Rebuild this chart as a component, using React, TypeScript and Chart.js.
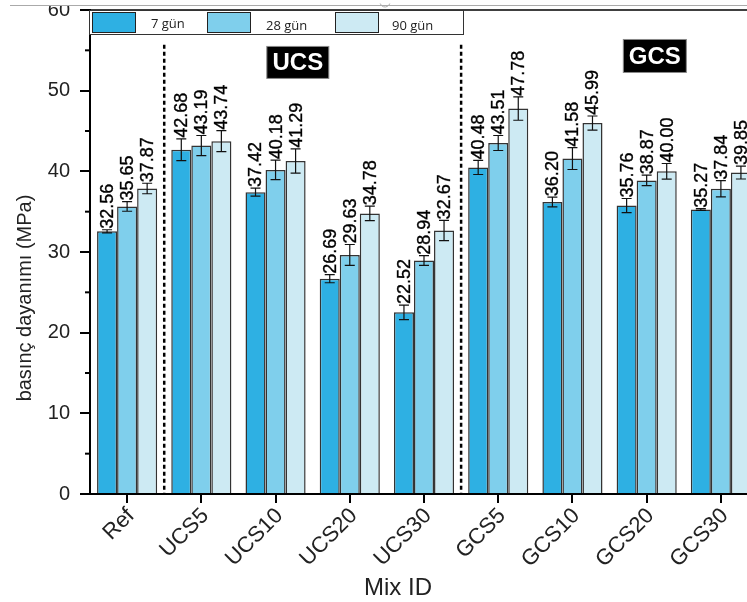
import { useEffect, useRef } from "react";
import { Chart, registerables } from "chart.js";
Chart.register(...registerables);

const categories = ["Ref", "UCS5", "UCS10", "UCS20", "UCS30", "GCS5", "GCS10", "GCS20", "GCS30"];
const seriesNames = ["7 gün", "28 gün", "90 gün"];
const day7 = [32.56, 42.68, 37.42, 26.69, 22.52, 40.48, 36.2, 35.76, 35.27];
const day28 = [35.65, 43.19, 40.18, 29.63, 28.94, 43.51, 41.58, 38.87, 37.84];
const day90 = [37.87, 43.74, 41.29, 34.78, 32.67, 47.78, 45.99, 40.0, 39.85];
const err7 = [0.2, 1.35, 0.5, 0.5, 0.9, 0.87, 0.6, 0.87, 0.1];
const err28 = [0.6, 1.25, 1.2, 1.3, 0.6, 0.93, 1.35, 0.65, 1.0];
const err90 = [0.65, 1.3, 1.5, 0.9, 1.25, 1.45, 0.87, 0.97, 0.8];
const yTicks = [0, 10, 20, 30, 40, 50, 60];
const groupLabels = ["UCS", "GCS"];
const yTitle = "basınç dayanımı (MPa)";
const xTitle = "Mix ID";
const colors = ["#2EB0E3", "#7FCFEC", "#CDEAF3"];

const FONT = '"Liberation Sans", Arial, sans-serif';

const overlay = {
  id: "overlay",
  afterDatasetsDraw(chart: any) {
    const ctx = chart.ctx;
    const ys = chart.scales.y;
    const errs = [err7, err28, err90];
    chart.data.datasets.forEach((ds: any, di: number) => {
      const meta = chart.getDatasetMeta(di);
      meta.data.forEach((bar: any, i: number) => {
        const v = ds.data[i];
        const e = errs[di][i];
        const yt = ys.getPixelForValue(v + e);
        const yb = ys.getPixelForValue(v - e);
        ctx.save();
        ctx.strokeStyle = "#111";
        ctx.lineWidth = 1.2;
        ctx.beginPath();
        ctx.moveTo(bar.x, yt);
        ctx.lineTo(bar.x, yb);
        ctx.moveTo(bar.x - 5, yt);
        ctx.lineTo(bar.x + 5, yt);
        ctx.moveTo(bar.x - 5, yb);
        ctx.lineTo(bar.x + 5, yb);
        ctx.stroke();
        ctx.translate(bar.x + 1, yt - 1);
        ctx.rotate(-Math.PI / 2);
        ctx.font = "18px " + FONT;
        ctx.fillStyle = "#000";
        ctx.strokeStyle = "#000";
        ctx.lineWidth = 0.35;
        ctx.textAlign = "left";
        ctx.textBaseline = "middle";
        ctx.fillText(v.toFixed(2), 0, 0);
        ctx.strokeText(v.toFixed(2), 0, 0);
        ctx.restore();
      });
    });
  },
  afterDraw(chart: any) {
    const ctx = chart.ctx;
    const xs = chart.scales.x;
    const ys = chart.scales.y;
    const area = chart.chartArea;
    ctx.save();
    // minor ticks
    ctx.strokeStyle = "#000";
    ctx.lineWidth = 2;
    for (let k = 0; k < yTicks.length - 1; k++) {
      const v = (yTicks[k] + yTicks[k + 1]) / 2;
      const py = ys.getPixelForValue(v);
      ctx.beginPath();
      ctx.moveTo(area.left - 5, py);
      ctx.lineTo(area.left, py);
      ctx.stroke();
    }
    // top frame
    ctx.lineWidth = 1.5;
    ctx.beginPath();
    ctx.moveTo(area.left, area.top);
    ctx.lineTo(chart.width, area.top);
    ctx.stroke();
    // dotted separators
    ctx.setLineDash([4, 3]);
    ctx.lineWidth = 2.5;
    [0.5, 4.5].forEach((c) => {
      const px = (xs.getPixelForValue(Math.floor(c)) + xs.getPixelForValue(Math.ceil(c))) / 2;
      ctx.beginPath();
      ctx.moveTo(px, ys.getPixelForValue(55.7));
      ctx.lineTo(px, area.bottom);
      ctx.stroke();
    });
    ctx.setLineDash([]);
    // group label boxes
    const boxes = [
      { c: 2.3, v: 53.5, w: 62, h: 32 },
      { c: 7.11, v: 54.3, w: 63, h: 33 },
    ];
    boxes.forEach((b, k) => {
      const cx = xs.getPixelForValue(0) + (xs.getPixelForValue(1) - xs.getPixelForValue(0)) * b.c;
      const cy = ys.getPixelForValue(b.v);
      ctx.fillStyle = "#000";
      ctx.fillRect(cx - b.w / 2, cy - b.h / 2, b.w, b.h);
      ctx.strokeStyle = "#888";
      ctx.lineWidth = 1;
      ctx.strokeRect(cx - b.w / 2, cy - b.h / 2, b.w, b.h);
      ctx.fillStyle = "#fff";
      ctx.font = "bold 24px " + FONT;
      ctx.textAlign = "center";
      ctx.textBaseline = "middle";
      ctx.fillText(groupLabels[k], cx, cy + 1);
    });
    // legend
    const lx = area.left - 1, ly = area.top, lw = 374, lh = 24;
    ctx.fillStyle = "#fff";
    ctx.fillRect(lx, ly, lw, lh);
    ctx.strokeStyle = "#333";
    ctx.lineWidth = 1;
    ctx.strokeRect(lx + 0.5, ly + 0.5, lw, lh);
    const sw = [92, 207, 335];
    const tx = [151, 266, 392];
    const ty = [14, 16, 16];
    seriesNames.forEach((n, k) => {
      ctx.fillStyle = colors[k];
      ctx.fillRect(sw[k], ly + 2, 43, 20);
      ctx.strokeStyle = "#222";
      ctx.strokeRect(sw[k] + 0.5, ly + 2.5, 43, 20);
      ctx.fillStyle = "#222";
      ctx.font = '13px "Open Sans", sans-serif';
      ctx.textAlign = "left";
      ctx.textBaseline = "middle";
      ctx.fillText(n, tx[k], ly + ty[k]);
    });
    // x title
    ctx.fillStyle = "#222";
    ctx.font = "24px " + FONT;
    ctx.textAlign = "center";
    ctx.textBaseline = "middle";
    ctx.fillText(xTitle, 398, 588);
    // y title
    ctx.save();
    ctx.translate(25, 298);
    ctx.rotate(-Math.PI / 2);
    ctx.font = "20px " + FONT;
    ctx.fillText(yTitle, 0, 0);
    ctx.restore();
    // top cover (cropped source)
    ctx.fillStyle = "#fff";
    ctx.fillRect(0, 0, chart.width, 5);
    ctx.strokeStyle = "#aaa";
    ctx.lineWidth = 1;
    ctx.beginPath();
    ctx.moveTo(10, 5.5);
    ctx.lineTo(chart.width, 5.5);
    ctx.stroke();
    ctx.beginPath();
    ctx.arc(385, 2, 5, 0.1 * Math.PI, 0.9 * Math.PI);
    ctx.stroke();
    ctx.restore();
  },
};

export default function App() {
  const ref = useRef<HTMLCanvasElement | null>(null);
  useEffect(() => {
    if (!ref.current) return;
    const chart = new Chart(ref.current, {
      type: "bar",
      data: {
        labels: categories,
        datasets: [day7, day28, day90].map((d, k) => ({
          label: seriesNames[k],
          data: d,
          backgroundColor: colors[k],
          borderColor: "#333",
          borderWidth: 1.5,
          categoryPercentage: 0.81,
          barPercentage: 1,
        })),
      },
      options: {
        animation: false,
        responsive: false,
        devicePixelRatio: 1,
        layout: { padding: { left: 0, top: 10, right: 12, bottom: 0 } },
        plugins: { legend: { display: false }, tooltip: { enabled: false } },
        scales: {
          x: {
            afterFit: (s: any) => {
              s.height = 108;
              s.paddingLeft = 0;
              s.paddingRight = 0;
            },
            grid: {
              offset: false,
              drawOnChartArea: false,
              drawTicks: true,
              tickLength: 9,
              color: "#000",
              lineWidth: 2,
            },
            border: { display: true, color: "#000", width: 2 },
            ticks: {
              autoSkip: false,
              maxRotation: 45,
              minRotation: 45,
              padding: 0,
              labelOffset: 4,
              color: "#222",
              font: { family: FONT, size: 22 },
            },
          },
          y: {
            min: 0,
            max: 60,
            afterFit: (s: any) => {
              s.width = 90;
              s.paddingTop = 0;
              s.paddingBottom = 0;
            },
            afterBuildTicks: (s: any) => {
              s.ticks = yTicks.map((v) => ({ value: v }));
            },
            grid: {
              drawOnChartArea: false,
              drawTicks: true,
              tickLength: 10,
              color: "#000",
              lineWidth: 2,
            },
            border: { display: true, color: "#000", width: 2 },
            ticks: {
              padding: 10,
              color: "#222",
              font: { family: FONT, size: 20 },
            },
          },
        },
      },
      plugins: [overlay],
    });
    return () => chart.destroy();
  }, []);
  return (
    <div
      style={{
        position: "fixed",
        left: 0,
        top: 0,
        width: 747,
        height: 602,
        overflow: "hidden",
        background: "#fff",
      }}
    >
      <canvas ref={ref} width={770} height={602} style={{ position: "absolute", left: 0, top: 0 }} />
    </div>
  );
}
